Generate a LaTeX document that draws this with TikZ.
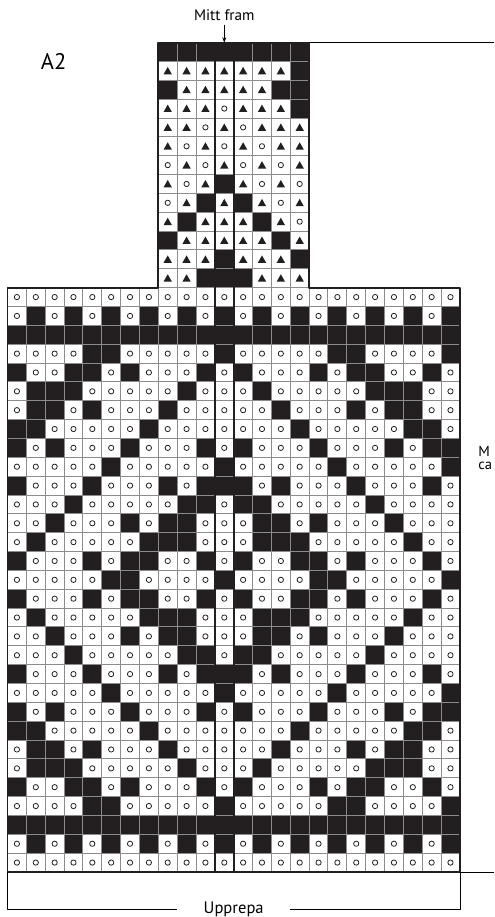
\documentclass[tikz,border=0pt]{standalone}
\usepackage{fontspec}
\setmainfont{PT Sans}
\usetikzlibrary{arrows.meta}
\definecolor{ink}{HTML}{231F20}
\definecolor{gridgray}{HTML}{8C8C8C}
% 0 = ring, 1 = filled square, 2 = triangle
\newcommand{\stitch}[3]{%
  \ifcase#1
    \draw[ink, line width=0.6pt] (#2,#3) circle (0.14);
  \or
    \fill[ink] ({#2-0.5},{#3-0.5}) rectangle ++(1,1);
  \or
    \fill[ink] ({#2-0.22},{#3-0.18}) -- ({#2+0.22},{#3-0.18}) -- (#2,{#3+0.21}) -- cycle;
  \fi}

\begin{document}
\begin{tikzpicture}[x=5mm, y=5mm, >={Stealth[length=4pt,width=3pt]}, line join=round,
  txt/.style={font=\fontsize{12}{14}\selectfont}]
	\useasboundingbox (-0.398,-2.387) rectangle (25.81,46.26);
	% lower part, 24 stitches, top row first
	\foreach \row [count=\r] in {
		{0,0,0,0,0,0,0,0,0,0,0,0,0,0,0,0,0,0,0,0,0,0,0,0},
		{0,1,0,1,0,1,0,1,0,1,0,1,0,1,0,1,0,1,0,1,0,1,0,1},
		{1,1,1,1,1,1,1,1,1,1,1,1,1,1,1,1,1,1,1,1,1,1,1,1},
		{0,0,0,0,1,1,0,0,0,0,0,1,0,0,0,0,0,1,1,0,0,0,0,1},
		{1,0,0,1,1,0,1,0,0,0,1,0,1,0,0,0,1,0,1,1,0,0,1,0},
		{0,1,1,1,0,0,0,0,0,1,0,0,0,1,0,0,0,0,0,1,1,1,0,0},
		{0,1,1,0,1,0,0,0,1,0,0,0,0,0,1,0,0,0,1,0,1,1,0,0},
		{1,1,0,0,0,0,0,1,0,0,0,0,0,0,0,1,0,0,0,0,0,1,1,0},
		{1,0,1,0,0,0,1,0,0,0,1,0,1,0,0,0,1,0,0,0,1,0,1,1},
		{0,0,0,0,0,1,0,0,0,0,0,1,0,0,0,0,0,1,0,0,0,0,0,1},
		{1,0,0,0,1,0,0,0,1,0,1,1,1,0,1,0,0,0,1,0,0,0,1,0},
		{0,0,0,1,0,0,0,0,0,1,1,0,1,1,0,0,0,0,0,1,0,0,0,0},
		{0,0,1,0,0,0,1,0,1,1,0,0,0,1,1,0,1,0,0,0,1,0,0,0},
		{0,1,0,0,0,0,0,1,1,1,0,0,0,1,1,1,0,0,0,0,0,1,0,0},
		{1,0,0,0,1,0,1,1,0,0,1,0,1,0,0,1,1,0,1,0,0,0,1,0},
		{0,0,0,0,0,1,1,0,0,0,0,1,0,0,0,0,1,1,0,0,0,0,0,1},
		{1,0,0,0,1,0,1,1,0,0,1,0,1,0,0,1,1,0,1,0,0,0,1,0},
		{0,1,0,0,0,0,0,1,1,1,0,0,0,1,1,1,0,0,0,0,0,1,0,0},
		{0,0,1,0,0,0,1,0,1,1,0,0,0,1,1,0,1,0,0,0,1,0,0,0},
		{0,0,0,1,0,0,0,0,0,1,1,0,1,1,0,0,0,0,0,1,0,0,0,0},
		{1,0,0,0,1,0,0,0,1,0,1,1,1,0,1,0,0,0,1,0,0,0,1,0},
		{0,0,0,0,0,1,0,0,0,0,0,1,0,0,0,0,0,1,0,0,0,0,0,1},
		{1,0,1,0,0,0,1,0,0,0,1,0,1,0,0,0,1,0,0,0,1,0,1,1},
		{1,1,0,0,0,0,0,1,0,0,0,0,0,0,0,1,0,0,0,0,0,1,1,0},
		{0,1,1,0,1,0,0,0,1,0,0,0,0,0,1,0,0,0,1,0,1,1,0,0},
		{0,1,1,1,0,0,0,0,0,1,0,0,0,1,0,0,0,0,0,1,1,1,0,0},
		{1,0,0,1,1,0,1,0,0,0,1,0,1,0,0,0,1,0,1,1,0,0,1,0},
		{0,0,0,0,1,1,0,0,0,0,0,1,0,0,0,0,0,1,1,0,0,0,0,1},
		{1,1,1,1,1,1,1,1,1,1,1,1,1,1,1,1,1,1,1,1,1,1,1,1},
		{0,1,0,1,0,1,0,1,0,1,0,1,0,1,0,1,0,1,0,1,0,1,0,1},
		{0,0,0,0,0,0,0,0,0,0,0,0,0,0,0,0,0,0,0,0,0,0,0,0}}
	{\foreach \v [count=\i] in \row {\stitch{\v}{\i-0.5}{31.5-\r}}}
	% neck part, 8 stitches
	\foreach \row [count=\r] in {
		{1,1,1,1,1,1,1,1},
		{2,2,2,2,2,2,2,1},
		{1,2,2,2,2,2,1,1},
		{2,2,2,0,2,2,2,1},
		{2,2,0,2,0,2,2,2},
		{2,0,2,0,2,0,2,2},
		{0,2,0,2,0,2,0,2},
		{2,0,2,1,2,0,2,0},
		{0,2,1,2,1,2,0,2},
		{2,1,2,2,2,1,2,0},
		{1,2,2,2,2,2,1,2},
		{2,2,2,1,2,2,2,1},
		{2,2,1,1,1,2,2,2}}
	{\foreach \v [count=\i] in \row {\stitch{\v}{\i+7.5}{44.5-\r}}}
	\draw[gridgray, line width=0.7pt, step=5mm] (0,0) grid (24,31) (8,31) grid (16,44);
	\draw[ink, line width=1.5pt] (0,0) -| (24,31) -| (16,44) -| (8,31) -| (0,0) -- cycle;
	\draw[ink, line width=1.5pt] (11,0) -- (11,44) (12,0) -- (12,44);
	% labels
	\node[font=\fontsize{17}{20}\selectfont] (title) at (2.45,43.0) {A2};
	\node[font=\fontsize{11.5}{14}\selectfont] (front) at (11.5,45.45) {Mitt fram};
	\coordinate (mid) at (11.5,44);
	\draw[->, line width=0.6pt] (front) -- (mid);
	\coordinate (neckr) at (16,44); \coordinate (edget) at (25.81,44);
	\draw[line width=0.6pt] (neckr) -- (edget);
	\node[anchor=north west, inner sep=0pt, align=left, font=\fontsize{11}{10}\selectfont] (side) at (24.96,22.6) {M\\ca};
	\coordinate (bl) at (0,0); \coordinate (br) at (24,0); \coordinate (edgeb) at (25.81,0);
	\draw[line width=0.6pt] (br) -- (edgeb);
	\node[txt, font=\fontsize{12.5}{15}\selectfont, minimum width=2.97cm] (rep) at (12,-1.96) {Upprepa};
	\draw[line width=0.6pt] (bl) |- (rep.west) (br) |- (rep.east);
\end{tikzpicture}
\end{document}
